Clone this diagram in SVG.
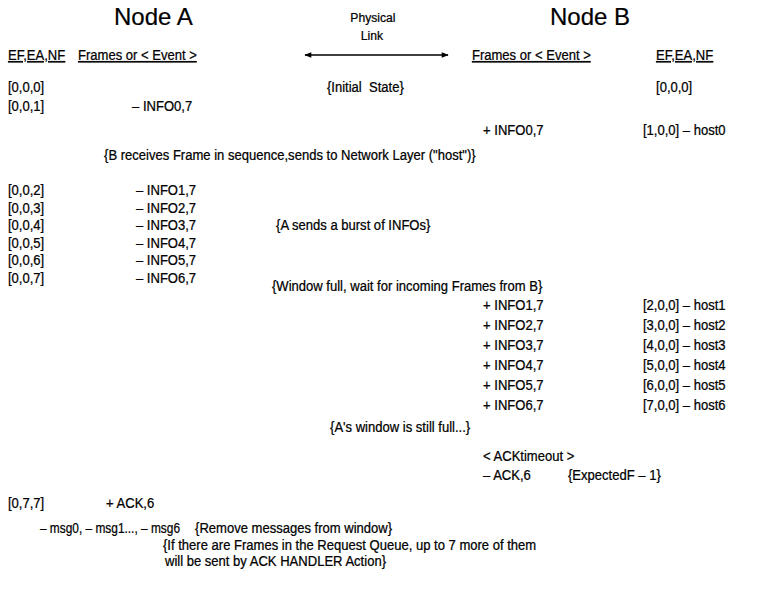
<svg xmlns="http://www.w3.org/2000/svg" width="769" height="602" viewBox="0 0 769 602">
<style>
text{font-family:"Liberation Sans",Arial,sans-serif;font-size:14.5px;fill:#000;stroke:#000;stroke-width:0.25}
.title{font-size:24px;stroke-width:0.2}
.small{font-size:13.5px}
.hdr{text-decoration:underline}
</style>
<defs>
<marker id="ah" viewBox="0 0 10 10" refX="9" refY="5" markerWidth="8" markerHeight="7" orient="auto-start-reverse" markerUnits="userSpaceOnUse">
<path d="M0,1 L10,5 L0,9 z" fill="#000"/>
</marker>
</defs>
<rect width="769" height="602" fill="#fff"/>
<g id="titles">
<text class="title" x="114" y="25">Node A</text>
<text class="title" x="550" y="25">Node B</text>
</g>
<g id="connectors">
<line x1="305" y1="55" x2="448" y2="55" stroke="#000" stroke-width="1.6" marker-start="url(#ah)" marker-end="url(#ah)"/>
</g>
<g transform="scale(0.9 1)">
<g id="link">
<text class="small" x="414.4" y="22" text-anchor="middle">Physical</text>
<text class="small" x="413.3" y="40" text-anchor="middle">Link</text>
</g>
<g id="node-a">
<text class="hdr" x="8.9" y="60">EF,EA,NF</text>
<text class="hdr" x="86.7" y="60">Frames or &lt; Event &gt;</text>
<text x="8.9" y="92">[0,0,0]</text>
<text x="8.9" y="111">[0,0,1]</text>
<text x="146.7" y="111">– INFO0,7</text>
<text x="8.9" y="195">[0,0,2]</text>
<text x="151.1" y="195">– INFO1,7</text>
<text x="8.9" y="213">[0,0,3]</text>
<text x="151.1" y="213">– INFO2,7</text>
<text x="8.9" y="230">[0,0,4]</text>
<text x="151.1" y="230">– INFO3,7</text>
<text x="8.9" y="248">[0,0,5]</text>
<text x="151.1" y="248">– INFO4,7</text>
<text x="8.9" y="265">[0,0,6]</text>
<text x="151.1" y="265">– INFO5,7</text>
<text x="8.9" y="283">[0,0,7]</text>
<text x="151.1" y="283">– INFO6,7</text>
<text x="8.9" y="508">[0,7,7]</text>
<text x="117.8" y="508">+ ACK,6</text>
<text x="44.4" y="533" textLength="155.6" lengthAdjust="spacingAndGlyphs">– msg0, – msg1..., – msg6</text>
</g>
<g id="node-b">
<text class="hdr" x="524.4" y="60">Frames or &lt; Event &gt;</text>
<text class="hdr" x="728.9" y="60">EF,EA,NF</text>
<text x="728.9" y="92">[0,0,0]</text>
<text x="536.7" y="135">+ INFO0,7</text>
<text x="714.4" y="135">[1,0,0] – host0</text>
<text x="536.7" y="310">+ INFO1,7</text>
<text x="714.4" y="310">[2,0,0] – host1</text>
<text x="536.7" y="330">+ INFO2,7</text>
<text x="714.4" y="330">[3,0,0] – host2</text>
<text x="536.7" y="350">+ INFO3,7</text>
<text x="714.4" y="350">[4,0,0] – host3</text>
<text x="536.7" y="370">+ INFO4,7</text>
<text x="714.4" y="370">[5,0,0] – host4</text>
<text x="536.7" y="390">+ INFO5,7</text>
<text x="714.4" y="390">[6,0,0] – host5</text>
<text x="536.7" y="410">+ INFO6,7</text>
<text x="714.4" y="410">[7,0,0] – host6</text>
<text x="536.7" y="461">&lt; ACKtimeout &gt;</text>
<text x="536.7" y="480">– ACK,6</text>
</g>
<g id="notes">
<text x="363.3" y="92">{Initial<tspan dx="8">State}</tspan></text>
<text x="115.6" y="160">{B receives Frame in sequence,sends to Network Layer ("host")}</text>
<text x="306.7" y="230">{A sends a burst of INFOs}</text>
<text x="302.2" y="291">{Window full, wait for incoming Frames from B}</text>
<text x="366.7" y="432">{A's window is still full...}</text>
<text x="631.1" y="480">{ExpectedF – 1}</text>
<text x="216.7" y="533">{Remove messages from window}</text>
<text x="181.1" y="550">{If there are Frames in the Request Queue, up to 7 more of them</text>
<text x="183.3" y="566">will be sent by ACK HANDLER Action}</text>
</g>
</g>
</svg>
